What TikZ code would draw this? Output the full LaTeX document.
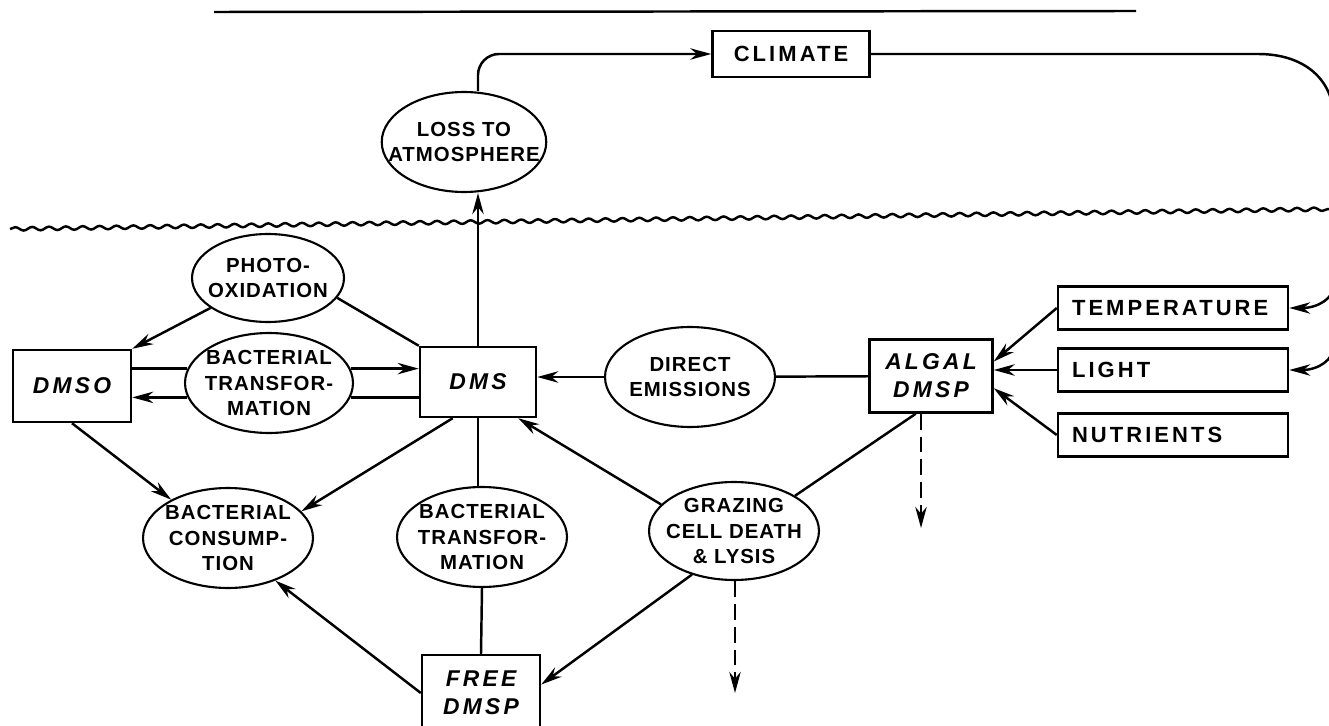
\documentclass[tikz,border=0pt]{standalone}
\usepackage{fontspec}
\setmainfont{Liberation Sans}
\newfontfamily\boxfont[LetterSpace=14]{Liberation Sans}
\newfontfamily\procfont[LetterSpace=5]{Liberation Sans}
\usetikzlibrary{shapes.geometric,decorations.pathmorphing,arrows.meta}

\begin{document}
\begin{tikzpicture}[x=0.02cm,y=-0.02cm,line width=1.4pt,>={Stealth[length=12pt,width=6.5pt]},
  pool/.style={draw,font=\boxfont\bfseries\itshape\fontsize{13}{16}\selectfont,align=center,
    minimum width=2.36cm,minimum height=1.44cm},
  proc/.style={draw,ellipse,line width=1.2pt,inner sep=-10pt,font=\procfont\bfseries\fontsize{11.6}{14.7}\selectfont,
    align=center,minimum width=3.4cm,minimum height=2cm},
  factor/.style={draw,font=\boxfont\bfseries\fontsize{12.5}{15}\selectfont,text width=4.04cm,
    align=left,inner xsep=0.28cm,minimum height=0.86cm},
  sink/.style={dash pattern=on 9pt off 4pt,->}]
\useasboundingbox (0,0) rectangle (1329,726);
\draw (214,12) -- (1136,11);
\draw [decorate,decoration={snake,segment length=9.6pt,amplitude=1pt}] (10,229) -- (1335,209);

\node [draw,font=\boxfont\bfseries\fontsize{12.5}{15}\selectfont,minimum width=3.14cm,minimum height=0.92cm] (climate) at (791,54) {CLIMATE};
\node [proc,minimum width=3.24cm] (loss) at (464,142) {LOSS TO\\ATMOSPHERE};
\node [proc,minimum width=3.04cm,minimum height=1.76cm] (photo) at (268,278) {PHOTO-\\OXIDATION};
\node [pool] (dmso) at (72,386) {DMSO};
\node [proc,minimum width=3.36cm] (bt1) at (269,383) {BACTERIAL\\TRANSFOR-\\MATION};
\node [pool,minimum width=2.32cm,minimum height=1.4cm] (dms) at (478,382) {DMS};
\node [proc] (direct) at (690,377) {DIRECT\\EMISSIONS};
\node [pool,minimum width=2.46cm,minimum height=1.46cm] (algal) at (931,376) {ALGAL\\DMSP};
\node [factor] (temp) at (1173,308) {TEMPERATURE};
\node [factor] (light) at (1173,370) {LIGHT};
\node [factor] (nutr) at (1173,435) {NUTRIENTS};
\node [proc] (bcons) at (228,538) {BACTERIAL\\CONSUMP-\\TION};
\node [proc] (bt2) at (482,537) {BACTERIAL\\TRANSFOR-\\MATION};
\node [proc,minimum height=1.96cm] (graz) at (734,531) {GRAZING\\CELL DEATH\\\& LYSIS};
\node [pool,minimum height=1.52cm] (free) at (481,693) {FREE\\DMSP};
\coordinate (algalsink) at (921,528);
\coordinate (grazsink) at (735,693);
\coordinate (loop) at (1334,285);

\draw [rounded corners=12pt,->] (dms.north |- loss.north) |- (climate.west);
\draw [->] (dms.north) -- (dms.north |- loss.south);
\draw [->] (climate.east) -- (1258,54) .. controls (1305,54) and (1334,80) .. (1334,120)
  -- (loop) .. controls (1334,298) and (1318,308) .. (temp.east);
\draw [->] (loop) -- (1334,345) .. controls (1334,360) and (1318,370) .. (light.east);
\draw [->] (photo) -- (dmso.north east);
\draw (photo.-16) -- (dms.north west);
\draw (bt1.170) -- (bt1.170 -| dmso.east);
\draw [->] (bt1.10) -- (bt1.10 -| dms.west);
\draw (dms.west |- bt1.-10) -- (bt1.-10);
\draw [->] (bt1.190) -- (bt1.190 -| dmso.east);
\draw [->] (direct) -- (direct -| dms.east);
\draw (algal) -- (direct);
\draw [->] (temp.west) -- (algal.13);
\draw [->] (light.west) -- (light.west -| algal.east);
\draw [->] (nutr.west) -- (algal.-11);
\draw [->] (dmso.south) -- (bcons.146);
\draw [->] (dms.-125) -- (bcons.20);
\draw (dms.south) -- (dms.south |- bt2.north);
\draw (bt2.south) -- (free.north);
\draw [->] (graz.160) -- (dms.-42);
\draw (algal.-112) -- (graz.30);
\draw [->] (graz.-134) -- (free.8);
\draw [->] (free.west) -- (bcons.-42);
\draw [sink] (algal.south -| algalsink) -- (algalsink);
\draw [sink] (graz.south -| grazsink) -- (grazsink);
\end{tikzpicture}
\end{document}
